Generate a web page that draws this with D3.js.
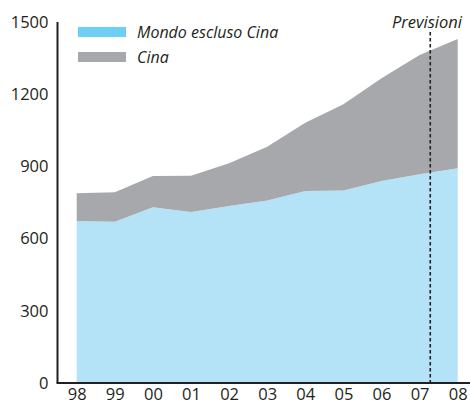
<!DOCTYPE html>
<html>
<head>
<meta charset="utf-8">
<script src="https://cdn.jsdelivr.net/npm/d3@7"></script>
<style>
  body { margin: 0; background: #fff; }
  svg text { font-family: "Open Sans", sans-serif; fill: #231f20; }
</style>
</head>
<body>
<svg id="chart" width="470" height="403"></svg>
<script>
// anni (etichette asse x)
var years = ['98', '99', '00', '01', '02', '03', '04', '05', '06', '07', '08'];
// Mondo escluso Cina
var mondo = [673, 670, 730, 711, 735, 758, 798, 800, 839, 867, 892];
// Cina (quota aggiunta sopra il resto del mondo)
var cina = [115, 123, 130, 150, 178, 224, 283, 358, 427, 496, 537];
var yTicks = [0, 300, 600, 900, 1200, 1500];
var forecastAt = 9.28; // posizione della linea "Previsioni" (tra 07 e 08)

var svg = d3.select('#chart');

var x = d3.scaleLinear().domain([0, years.length - 1]).range([76.7, 457.7]);
var y = d3.scaleLinear().domain([0, 1500]).range([383, 22]);

var rows = years.map(function(d, i) {
  return { year: d, i: i, mondo: mondo[i], cina: cina[i] };
});
var stack = d3.stack().keys(['mondo', 'cina'])(rows);
var colors = { mondo: '#b4e3f8', cina: '#a7a8ab' };

var area = d3.area()
  .x(function(d) { return x(d.data.i); })
  .y0(function(d) { return y(d[0]); })
  .y1(function(d) { return y(d[1]); });

svg.selectAll('path.layer')
  .data(stack)
  .enter().append('path')
  .attr('class', 'layer')
  .attr('d', area)
  .attr('fill', function(d) { return colors[d.key]; });

// linea tratteggiata delle previsioni
svg.append('line')
  .attr('x1', x(forecastAt)).attr('x2', x(forecastAt))
  .attr('y1', 32).attr('y2', y(0))
  .attr('stroke', '#231f20')
  .attr('stroke-width', 1.6)
  .attr('stroke-dasharray', '3.5,2.5');

svg.append('text')
  .attr('x', 462).attr('y', 28)
  .attr('text-anchor', 'end')
  .attr('font-style', 'italic')
  .attr('font-size', 16.5)
  .text('Previsioni');

// asse y
var yAxis = svg.append('g')
  .attr('transform', 'translate(57.5,0)')
  .call(d3.axisLeft(y).tickValues(yTicks).tickFormat(d3.format('d'))
    .tickSize(0).tickPadding(9));
yAxis.select('.domain').attr('stroke', '#231f20').attr('stroke-width', 2)
  .attr('d', 'M0,' + y(1500) + 'V' + y(0));
yAxis.selectAll('text').attr('font-size', 16.5).attr('fill', '#231f20')
  .attr('font-family', '"Open Sans", sans-serif');

// asse x
var xAxis = svg.append('g')
  .attr('transform', 'translate(0,' + y(0) + ')')
  .call(d3.axisBottom(x).tickValues(d3.range(years.length))
    .tickFormat(function(i) { return years[i]; })
    .tickSize(0).tickPadding(5));
xAxis.select('.domain').attr('stroke', '#231f20').attr('stroke-width', 2)
  .attr('d', 'M56.5,0H470');
xAxis.selectAll('text').attr('font-size', 16.5).attr('fill', '#231f20')
  .attr('font-family', '"Open Sans", sans-serif');

// legenda
var legend = [
  { label: 'Mondo escluso Cina', color: '#6dcff6', y: 32 },
  { label: 'Cina', color: '#a7a8ab', y: 57 }
];
var lg = svg.selectAll('g.legend')
  .data(legend)
  .enter().append('g')
  .attr('class', 'legend');
lg.append('rect')
  .attr('x', 78).attr('y', function(d) { return d.y - 5; })
  .attr('width', 48).attr('height', 10)
  .attr('fill', function(d) { return d.color; });
lg.append('text')
  .attr('x', 137).attr('y', function(d) { return d.y + 5.5; })
  .attr('font-style', 'italic')
  .attr('font-size', 16)
  .text(function(d) { return d.label; });
</script>
</body>
</html>
